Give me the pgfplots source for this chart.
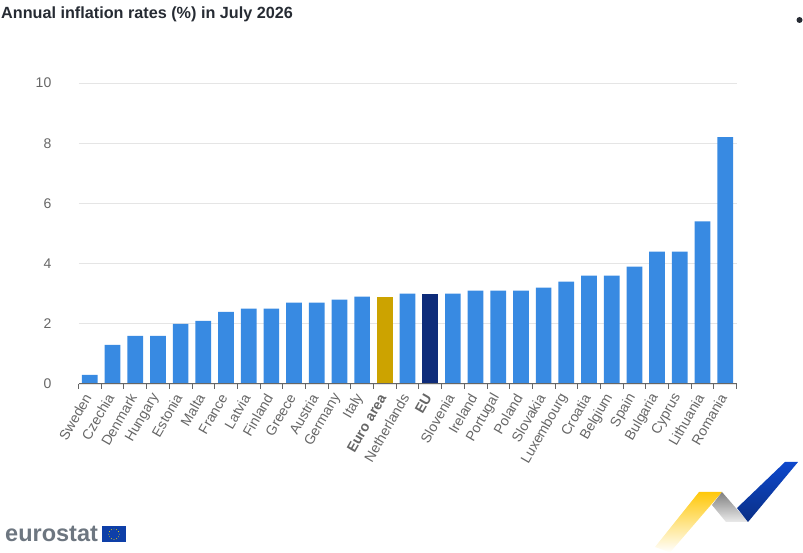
\documentclass[border=0pt]{standalone}
\usepackage{pgfplots}
\usepackage{fontspec}
\setmainfont{Liberation Sans}
\pgfplotsset{compat=1.18}
\definecolor{barblue}{HTML}{388AE2}
\definecolor{bargold}{HTML}{CCA300}
\definecolor{bardark}{HTML}{0E2C7A}
\definecolor{labelgrey}{HTML}{666666}
\definecolor{titlegrey}{HTML}{262B33}
\definecolor{flagblue}{HTML}{0E3FA8}
\definecolor{ribbonyellow}{HTML}{FFC80A}
\definecolor{ribbonblue}{HTML}{0E48CC}
\definecolor{ribbonnavy}{HTML}{0A2F85}
\definecolor{logogrey}{HTML}{6D7680}
\begin{document}
\begin{tikzpicture}[x=1pt,y=1pt]
\path[use as bounding box] (0,0) rectangle (803,553);
\begin{axis}[
    at={(78.5pt,169pt)},
    anchor=south west,
    scale only axis,
    width=658pt,
    height=301pt,
    xmin=-0.5, xmax=28.5,
    ymin=0, ymax=10,
    ytick={0,2,...,10},
    xtick={0,...,28},
    xticklabels={Sweden,Czechia,Denmark,Hungary,Estonia,Malta,France,Latvia,Finland,Greece,Austria,Germany,Italy,\textbf{Euro area},Netherlands,\textbf{EU},Slovenia,Ireland,Portugal,Poland,Slovakia,Luxembourg,Croatia,Belgium,Spain,Bulgaria,Cyprus,Lithuania,Romania},
    minor xtick={-0.5,0.5,...,28.5},
    axis line style={draw=none},
    axis x line*=bottom,
    axis y line*=left,
    ymajorgrids,
    grid style={draw=black!10,line width=0.8pt},
    major x tick style={draw=none},
    major y tick style={draw=none},
    minor x tick style={draw=labelgrey,line width=0.8pt},
    tick align=outside,
    minor tick length=5pt,
    major tick length=0pt,
    xticklabel shift=11pt,
    x tick label style={rotate=60,anchor=east,font=\fontsize{14}{14}\selectfont,text=labelgrey,inner sep=0pt,xshift=-1pt,yshift=1.7pt},
    y tick label style={font=\fontsize{14}{14}\selectfont,text=labelgrey,inner sep=0pt,xshift=-27pt},
    /pgf/number format/assume math mode=true,
    ybar,
    bar width=15.7pt,
    bar shift=0pt,
    clip=false,
]
\addplot[fill=barblue,draw=none] coordinates {
 (0,0.3) (1,1.3) (2,1.6) (3,1.6) (4,2.0) (5,2.1) (6,2.4) (7,2.5) (8,2.5) (9,2.7)
 (10,2.7) (11,2.8) (12,2.9) (14,3.0) (16,3.0) (17,3.1) (18,3.1) (19,3.1) (20,3.2)
 (21,3.4) (22,3.6) (23,3.6) (24,3.9) (25,4.4) (26,4.4) (27,5.4) (28,8.2)};
\addplot[fill=bargold,draw=none] coordinates {(13,2.9)};
\addplot[fill=bardark,draw=none] coordinates {(15,3.0)};
\draw[labelgrey,line width=1pt] (axis cs:-0.5,0) -- (axis cs:28.5,0);
\end{axis}
% title and bullet
\node[anchor=west,inner sep=0pt,text=titlegrey,font=\bfseries\fontsize{16.2}{16.2}\selectfont] at (1,538.5) {Annual inflation rates (\%) in July 2026};
\fill[titlegrey] (799.5,533) circle (3);
% eurostat logo
\node[anchor=west,inner sep=0pt,text=logogrey,font=\bfseries\fontsize{23.5}{23.5}\selectfont] at (5,19.5) {eurostat};
\fill[flagblue] (102,10.5) rectangle (126,27);
\foreach \a in {0,30,...,330}
  \fill[yellow!85!orange] ({114+5.2*cos(\a)},{18.8+5.2*sin(\a)}) circle (0.45);
% ribbon
\shade[top color=ribbonyellow,middle color=ribbonyellow,bottom color=white]
  (699,61) -- (722,61) -- (670,0.5) -- (655,6) -- cycle;
\shade[left color=black!50,right color=black!8,shading angle=0]
  (722,61) -- (748,31) -- (726,31) -- (712,48) -- cycle;
\shade[top color=ribbonblue,bottom color=ribbonnavy]
  (785,91) -- (798,91) -- (748,31) -- (737,45) -- cycle;
\end{tikzpicture}
\end{document}
